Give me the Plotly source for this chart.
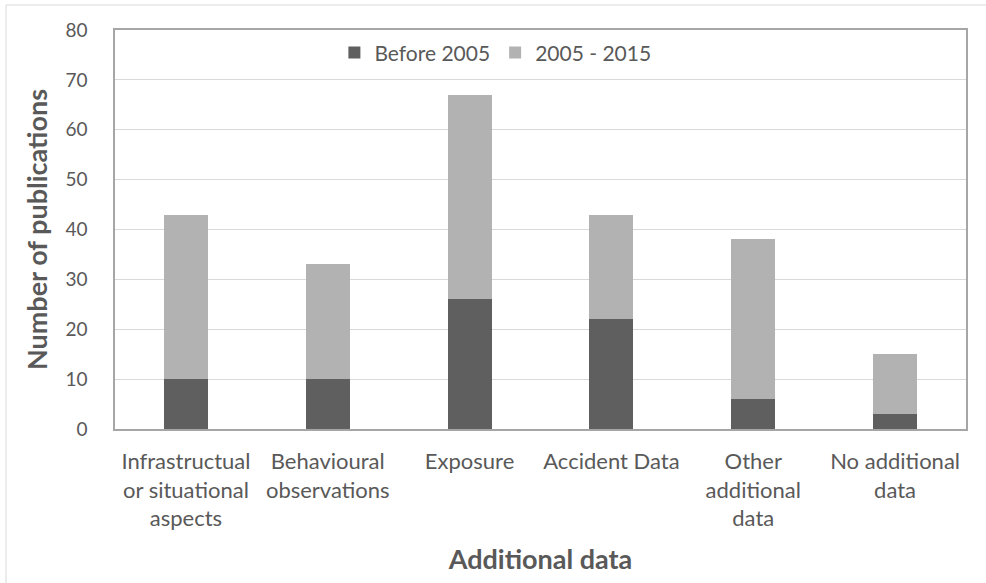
import plotly.graph_objects as go

categories = ["Infrastructual<br>or situational<br>aspects", "Behavioural<br>observations",
              "Exposure", "Accident Data", "Other<br>additional<br>data", "No additional<br>data"]
before_2005 = [10, 10, 26, 22, 6, 3]
period_2005_2015 = [33, 23, 41, 21, 32, 12]
series_names = ["Before 2005", "2005 - 2015"]
y_ticks = [0, 10, 20, 30, 40, 50, 60, 70, 80]

FONT = "Lato"
TXT = "#595959"

fig = go.Figure()
fig.add_trace(go.Bar(x=categories, y=before_2005, name=series_names[0],
                     marker=dict(color="#5f5f5f", line=dict(width=0))))
fig.add_trace(go.Bar(x=categories, y=period_2005_2015, name=series_names[1],
                     marker=dict(color="#b2b2b2", line=dict(width=0))))

W, H = 986, 583
L, R, T, B = 115, 20, 30, 154
pw, ph = W - L - R, H - T - B

def px2paper(x, y):
    return (x - L) / pw, (H - B - y) / ph

x0, y0 = px2paper(6, 5)
x1, y1 = px2paper(1010, 600)
fig.add_shape(type="rect", xref="paper", yref="paper", x0=x0, y0=y1, x1=x1, y1=y0,
              line=dict(color="#d9d9d9", width=1), layer="below")

fig.update_layout(
    width=W, height=H,
    margin=dict(l=L, r=R, t=T, b=B),
    barmode="stack",
    bargap=0.69,
    paper_bgcolor="white",
    plot_bgcolor="white",
    font=dict(family=FONT, color=TXT, size=19),
    showlegend=True,
    legend=dict(orientation="h", x=0.447, xanchor="center", y=0.943, yanchor="middle",
                font=dict(size=21, color=TXT), bgcolor="rgba(0,0,0,0)",
                traceorder="normal", itemwidth=30),
    xaxis=dict(showline=True, linecolor="#a6a6a6", linewidth=1.5, mirror=True,
               tickfont=dict(size=22, color=TXT), ticks="", ticklabelstandoff=12,
               title=dict(text="<b>Additional data</b>", font=dict(size=27, color=TXT), standoff=20)),
    yaxis=dict(range=[0, 80], tickvals=y_ticks, showgrid=True, gridcolor="#d9d9d9", gridwidth=1,
               showline=True, linecolor="#a6a6a6", linewidth=1.5, mirror=True,
               zeroline=False, ticks="", ticklabelstandoff=22,
               tickfont=dict(size=19, color=TXT),
               title=dict(text="<b>Number of publications</b>", font=dict(size=27, color=TXT), standoff=10)),
)

fig.write_html("out.html", config={"displayModeBar": False},
               post_script="document.body.style.margin='0';document.body.style.overflow='hidden';")
